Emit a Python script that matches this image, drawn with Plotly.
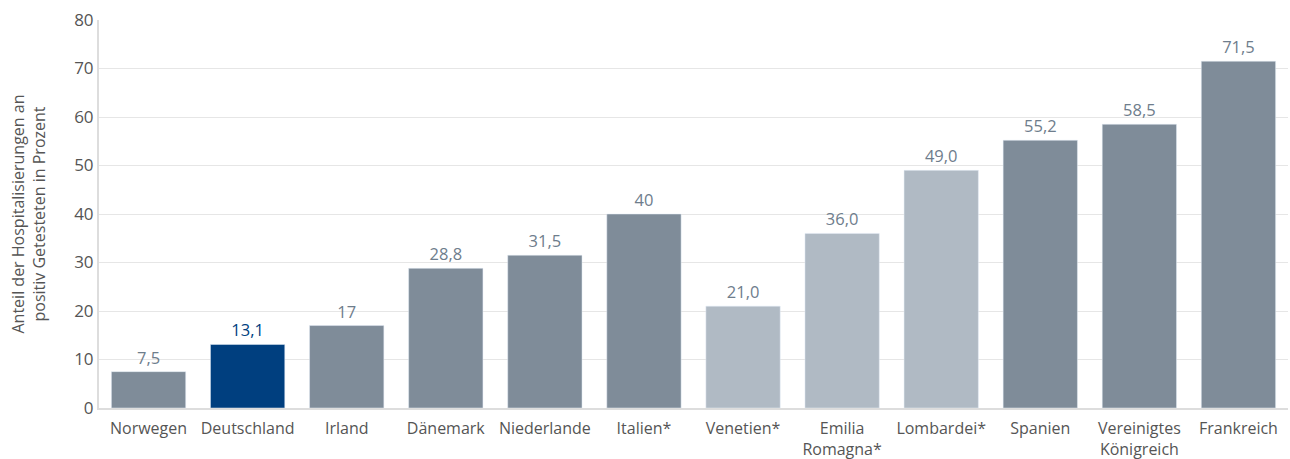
import plotly.graph_objects as go

categories = ["Norwegen", "Deutschland", "Irland", "Dänemark", "Niederlande", "Italien*",
              "Venetien*", "Emilia<br>Romagna*", "Lombardei*", "Spanien",
              "Vereinigtes<br>Königreich", "Frankreich"]
values = [7.5, 13.1, 17, 28.8, 31.5, 40, 21.0, 36.0, 49.0, 55.2, 58.5, 71.5]
labels = ["7,5", "13,1", "17", "28,8", "31,5", "40", "21,0", "36,0", "49,0", "55,2", "58,5", "71,5"]
groups = ["land", "de", "land", "land", "land", "land", "region", "region", "region", "land", "land", "land"]

bar_colors = {"land": "#7f8c99", "de": "#003f7f", "region": "#b0bac4"}
label_colors = {"land": "#6e7d8c", "de": "#003f7f", "region": "#6e7d8c"}

fig = go.Figure(go.Bar(
    x=categories, y=values, text=labels, textposition="outside",
    marker_color=[bar_colors[g] for g in groups],
    textfont=dict(color=[label_colors[g] for g in groups], size=16.5),
    cliponaxis=False, width=0.75,
))

fig.update_layout(
    width=1290, height=459,
    margin=dict(l=99, r=2, t=20, b=51),
    plot_bgcolor="white", paper_bgcolor="white",
    font=dict(family="Open Sans", size=16, color="#555555"),
    showlegend=False,
    bargap=0.25,
)
fig.update_xaxes(showline=True, linecolor="#dddddd", linewidth=2, ticks="",
                 tickfont=dict(size=16, color="#555555"), ticklabelstandoff=5,
                 automargin=False)
fig.update_yaxes(range=[0, 80], dtick=10, showgrid=True, gridcolor="#e6e6e6",
                 showline=True, linecolor="#dddddd", linewidth=2, zeroline=False,
                 tickfont=dict(size=17, color="#555555"), ticks="", ticklen=6,
                 title=dict(text="Anteil der Hospitalisierungen an<br>positiv Getesteten in Prozent",
                            font=dict(size=16, color="#555555"), standoff=25))

fig.write_html("out.html")
